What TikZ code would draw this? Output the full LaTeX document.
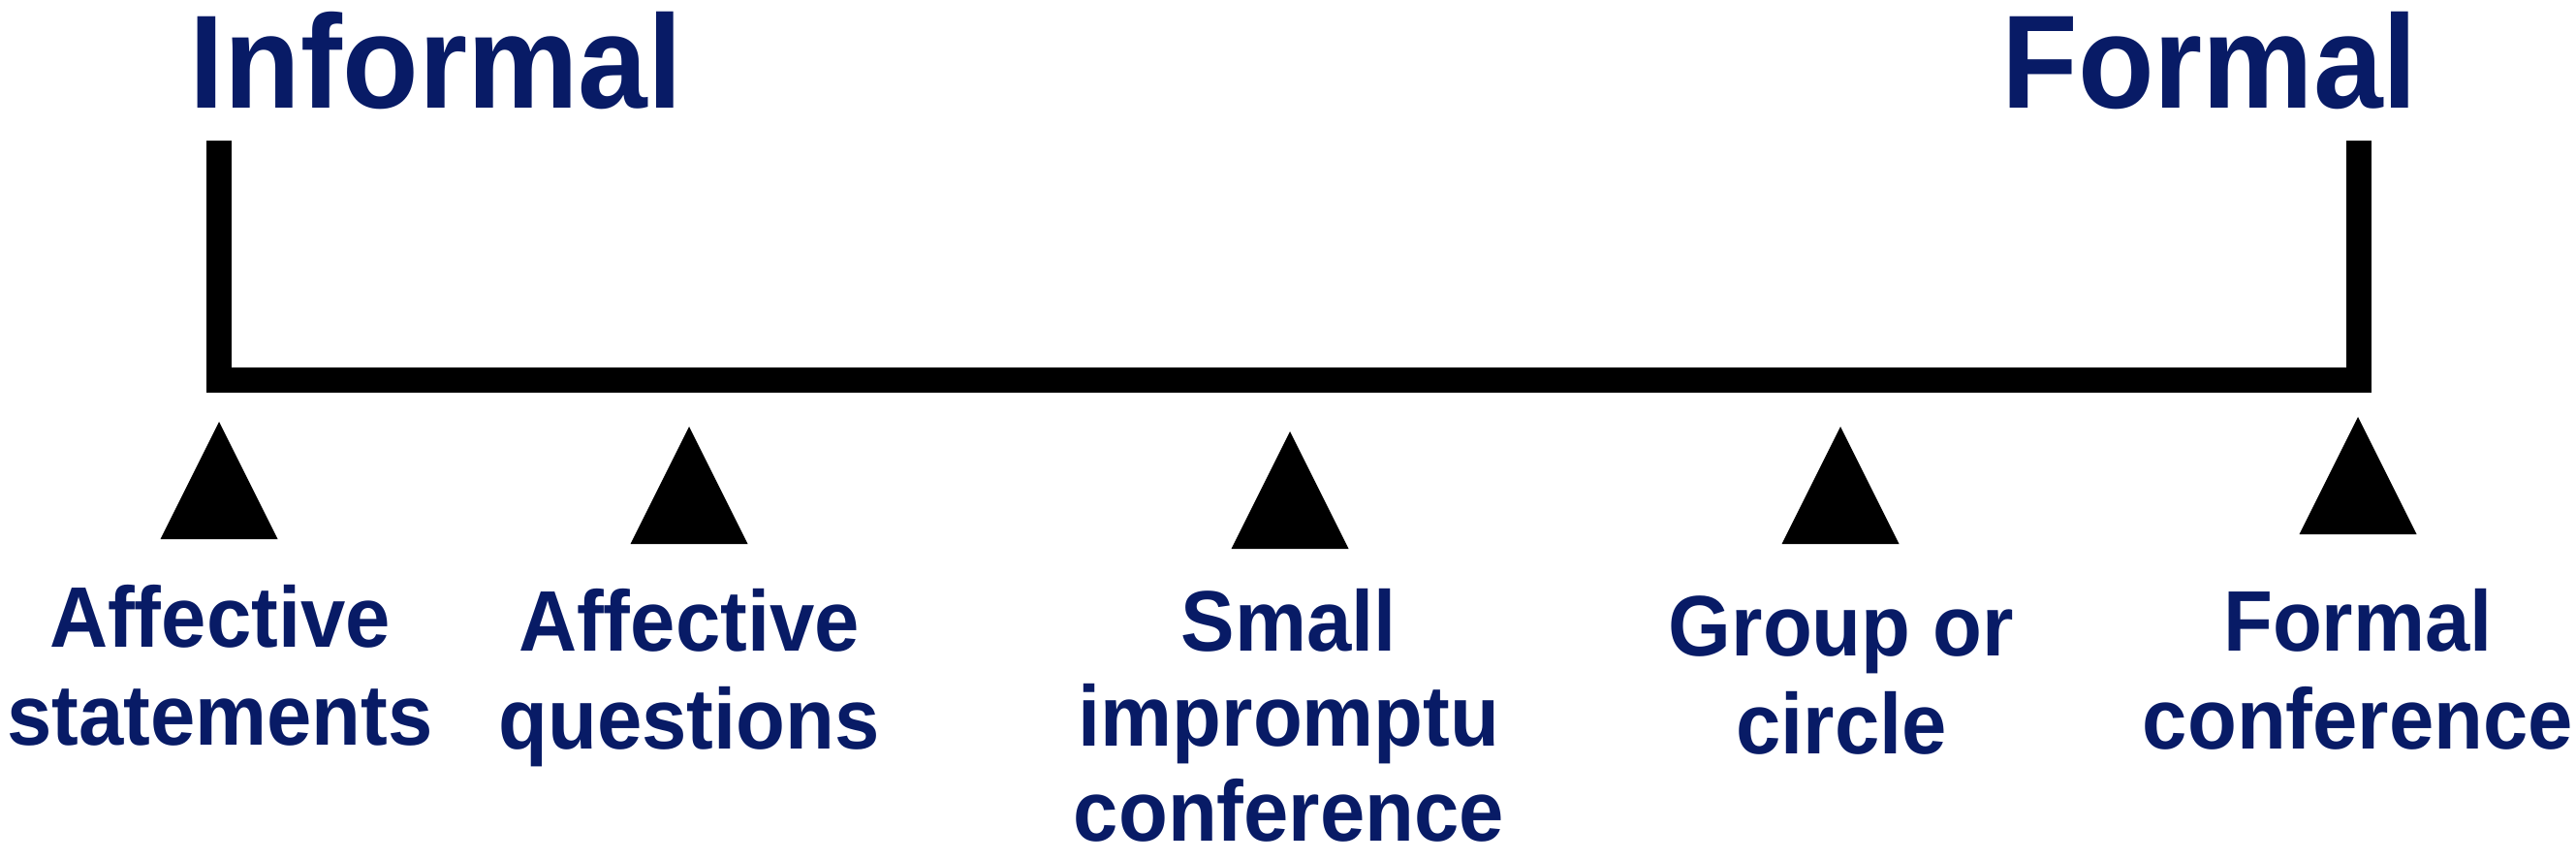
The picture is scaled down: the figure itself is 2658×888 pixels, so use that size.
\documentclass[tikz,border=0pt]{standalone}
\usepackage{fontspec}
\newfontfamily\labfont{Liberation Sans}[FakeStretch=0.94]
\definecolor{navy}{RGB}{8,27,102}
\begin{document}
\begin{tikzpicture}[x=0.25pt,y=-0.25pt,
  heading/.style={font=\labfont\bfseries\fontsize{34.25}{40}\selectfont,
    text=navy, inner sep=0pt, anchor=base},
  tag/.style={font=\labfont\bfseries\fontsize{22.15}{25.25}\selectfont,
    text=navy, inner sep=0pt, anchor=base, align=center},
  bar/.style={line width=6.5pt, line join=miter},
  pointer/.pic={\fill[black] (0,0) -- (-60.5,121) -- (60.5,121) -- cycle;}]
\useasboundingbox (0,0) rectangle (2658,888);

% end labels of the scale
\node[heading] (inf) at (450,112) {Informal};
\node[heading] (frm) at (2280,112) {Formal};

% bracket spanning the scale
\coordinate (lt) at (226,145);
\coordinate (lb) at (226,392);
\coordinate (rb) at (2434,392);
\coordinate (rt) at (2434,145);
\draw[bar] (lt) -- (lb) -- (rb) -- (rt);

% markers along the scale
\pic at (226,435) {pointer};
\pic at (711,440) {pointer};
\pic at (1331,445) {pointer};
\pic at (1899,440) {pointer};
\pic at (2433,430) {pointer};

% practices (positioned by the baseline of their last line)
\node[tag] (p1) at (227,768) {Affective\\statements};
\node[tag] (p2) at (711,772) {Affective\\questions};
\node[tag, font=\labfont\bfseries\fontsize{22.15}{24.5}\selectfont]
  (p3) at (1330,867) {Small\\impromptu\\conference};
\node[tag] (p4) at (1900,777) {Group or\\circle};
\node[tag] (p5) at (2433,772) {Formal\\conference};
\end{tikzpicture}
\end{document}
